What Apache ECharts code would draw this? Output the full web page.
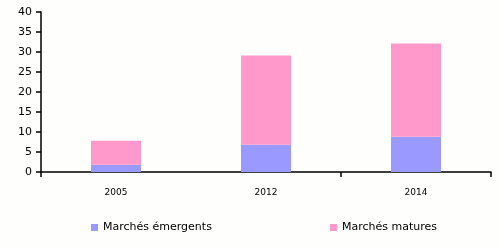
<!DOCTYPE html>
<html><head><meta charset="utf-8">
<script src="https://cdn.jsdelivr.net/npm/echarts@6/dist/echarts.min.js"></script>
<style>html,body{margin:0;padding:0;background:#fefefd;}#c{width:499px;height:248px;}</style>
</head><body><div id="c"></div>
<script>
const categories = ['2005', '2012', '2014'];
const emergents = [1.8, 6.8, 8.8];
const matures = [6.0, 22.3, 23.3];
const seriesNames = ['Marchés émergents', 'Marchés matures'];
const yTicks = { min: 0, max: 40, interval: 5 };

const chart = echarts.init(document.getElementById('c'), null, { renderer: 'canvas' });
const font = 'DejaVu Sans';
chart.setOption({
  backgroundColor: '#fefefd',
  animation: false,
  textStyle: { fontFamily: font, color: '#000' },
  grid: { left: 41, right: 8, top: 12, bottom: 76, containLabel: false },
  legend: [
    { data: [seriesNames[0]], left: 86, top: 217, icon: 'rect', itemWidth: 7, itemHeight: 7, itemGap: 5,
      textStyle: { fontFamily: font, fontSize: 11, color: '#000' } },
    { data: [seriesNames[1]], left: 325, top: 217, icon: 'rect', itemWidth: 7, itemHeight: 7, itemGap: 5,
      textStyle: { fontFamily: font, fontSize: 11, color: '#000' } }
  ],
  xAxis: {
    type: 'category', data: categories, boundaryGap: true,
    axisLine: { lineStyle: { color: '#000', width: 1.5 } },
    axisTick: { show: true, interval: function (i) { return i === 0 || i === 2; }, length: 5, lineStyle: { color: '#000', width: 1.5 } },
    axisLabel: { fontFamily: font, fontSize: 9, color: '#000', margin: 16 },
    splitLine: { show: false }
  },
  yAxis: {
    type: 'value', min: yTicks.min, max: yTicks.max, interval: yTicks.interval,
    axisLine: { show: true, lineStyle: { color: '#000', width: 1.5 } },
    axisTick: { show: true, length: 5, lineStyle: { color: '#000', width: 1.5 } },
    axisLabel: { fontFamily: font, fontSize: 11, color: '#000', margin: 9 },
    splitLine: { show: false }
  },
  series: [
    { name: seriesNames[0], type: 'bar', stack: 't', data: emergents, barWidth: 50, itemStyle: { color: '#9999FF' } },
    { name: seriesNames[1], type: 'bar', stack: 't', data: matures, barWidth: 50, itemStyle: { color: '#FF99CC' } }
  ]
});
</script></body></html>
